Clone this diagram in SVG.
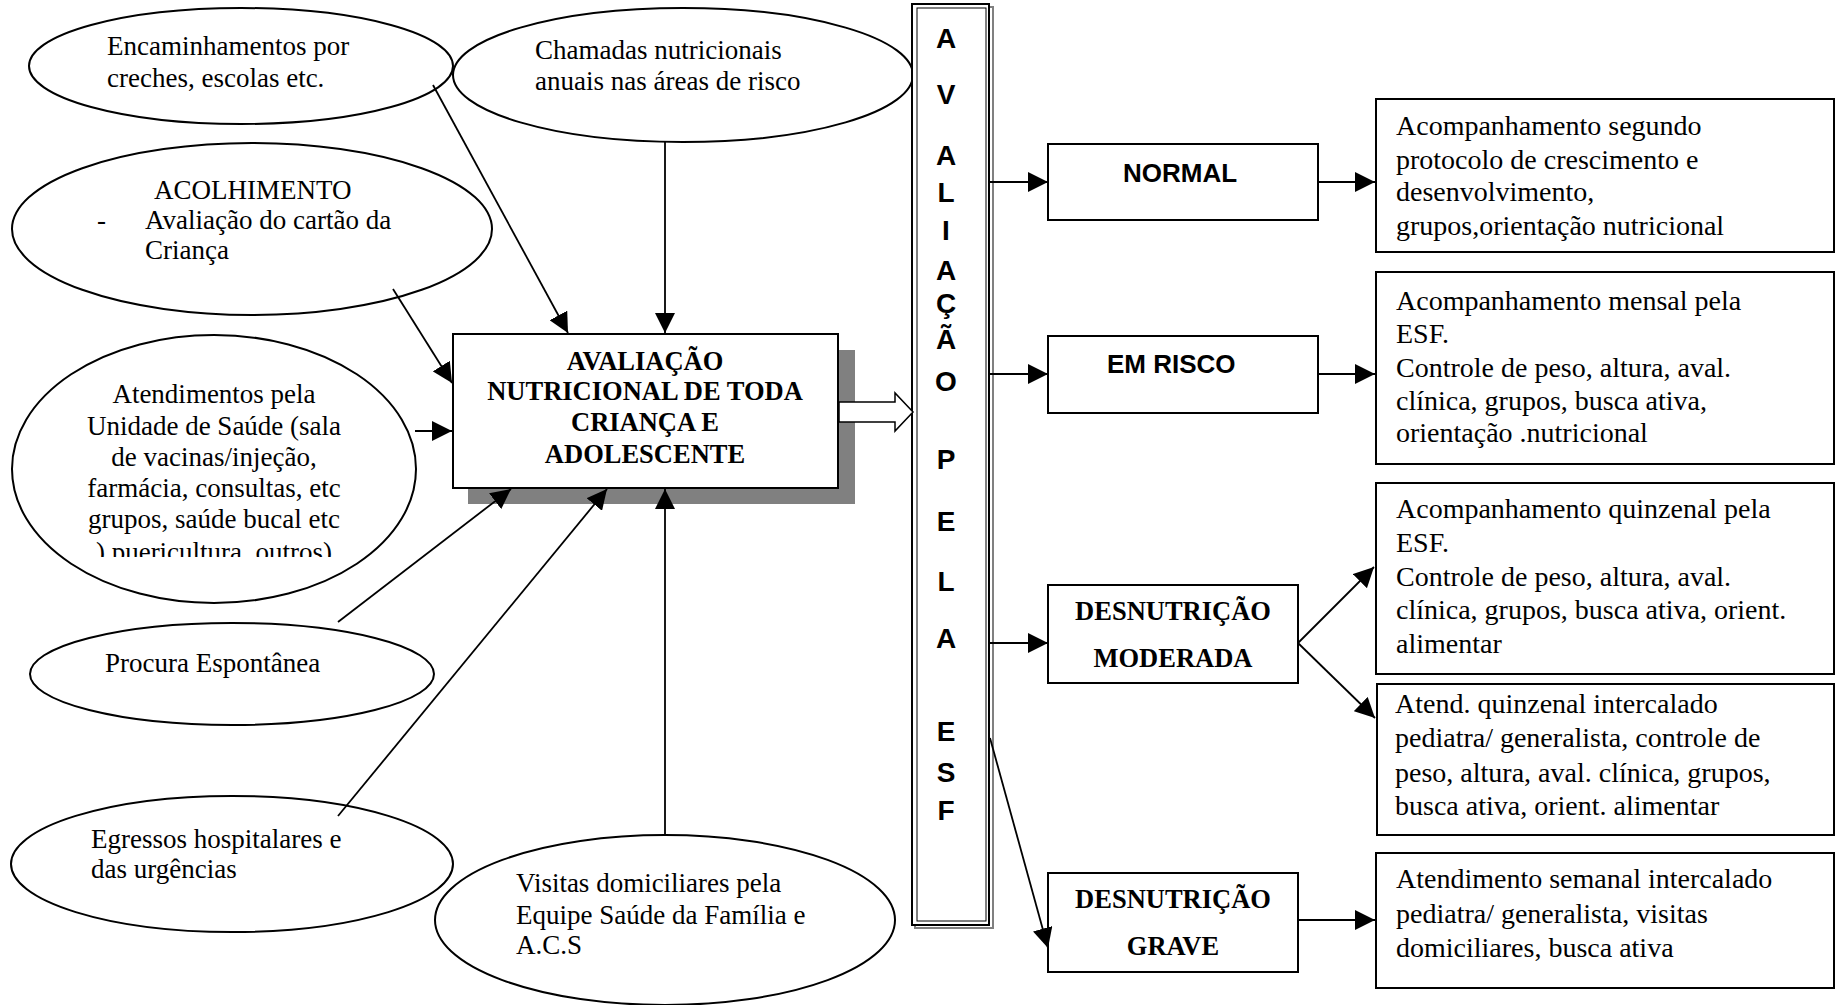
<svg xmlns="http://www.w3.org/2000/svg" width="1836" height="1005" viewBox="0 0 1836 1005">
<style>
.ell{fill:#fff;stroke:#000;stroke-width:2}
.box{fill:#fff;stroke:#000;stroke-width:2}
.t{font-family:"Liberation Serif","Times New Roman",serif;font-size:27px;fill:#000}
.tr{font-family:"Liberation Serif","Times New Roman",serif;font-size:28px;fill:#000}
.tb{font-family:"Liberation Serif","Times New Roman",serif;font-size:26.5px;font-weight:bold;fill:#000}
.s{font-family:"Liberation Sans",Arial,sans-serif;font-weight:bold;fill:#000}
.v{font-size:28px;text-anchor:middle}
.n{font-size:26px}
.mid{text-anchor:middle}
.cn line{stroke:#000;stroke-width:1.8}
</style>
<defs>
<marker id="ah" markerUnits="userSpaceOnUse" markerWidth="20" markerHeight="20" refX="20" refY="10" orient="auto">
<path d="M0,0 L20,10 L0,20 z" fill="#000"/>
</marker>
<clipPath id="clipAt"><rect x="0" y="330" width="460" height="227"/></clipPath>
</defs>

<g id="n-encaminhamentos">
<ellipse class="ell" cx="241" cy="66" rx="212" ry="58"/>
<text class="t" x="107" y="55">Encaminhamentos por</text>
<text class="t" x="107" y="87">creches, escolas etc.</text>
</g>

<g id="n-chamadas">
<ellipse class="ell" cx="683" cy="75" rx="230" ry="67"/>
<text class="t" x="535" y="59">Chamadas nutricionais</text>
<text class="t" x="535" y="90">anuais nas áreas de risco</text>
</g>

<g id="n-acolhimento">
<ellipse class="ell" cx="252" cy="229" rx="240" ry="86"/>
<text class="t" x="154" y="199">ACOLHIMENTO</text>
<text class="t" x="97" y="229">-</text>
<text class="t" x="145" y="229">Avaliação do cartão da</text>
<text class="t" x="145" y="259">Criança</text>
</g>

<g id="n-atendimentos">
<ellipse class="ell" cx="214" cy="469" rx="202" ry="134"/>
<g clip-path="url(#clipAt)">
<text class="t mid" x="214" y="403">Atendimentos pela</text>
<text class="t mid" x="214" y="435">Unidade de Saúde (sala</text>
<text class="t mid" x="214" y="466">de vacinas/injeção,</text>
<text class="t mid" x="214" y="497">farmácia, consultas, etc</text>
<text class="t mid" x="214" y="528">grupos, saúde bucal etc</text>
<text class="t mid" x="214" y="561">) puericultura, outros)</text>
</g>
</g>

<g id="n-procura">
<ellipse class="ell" cx="232" cy="674" rx="202" ry="51"/>
<text class="t" x="105" y="672">Procura Espontânea</text>
</g>

<g id="n-egressos">
<ellipse class="ell" cx="232" cy="864" rx="221" ry="68"/>
<text class="t" x="91" y="848">Egressos hospitalares e</text>
<text class="t" x="91" y="878">das urgências</text>
</g>

<g id="n-visitas">
<ellipse class="ell" cx="665" cy="920" rx="230" ry="85"/>
<text class="t" x="516" y="892">Visitas domiciliares pela</text>
<text class="t" x="516" y="924">Equipe Saúde da Família e</text>
<text class="t" x="516" y="954">A.C.S</text>
</g>

<g id="n-avaliacao">
<rect x="468" y="350" width="387" height="154" fill="#808080"/>
<rect class="box" x="453" y="334" width="385" height="154"/>
<text class="tb mid" x="645" y="370">AVALIAÇÃO</text>
<text class="tb mid" x="645" y="400">NUTRICIONAL DE TODA</text>
<text class="tb mid" x="645" y="431">CRIANÇA E</text>
<text class="tb mid" x="645" y="463">ADOLESCENTE</text>
</g>

<g id="n-esf">
<rect x="915" y="7" width="78" height="921" fill="none" stroke="#808080" stroke-width="2"/>
<rect x="912" y="4" width="77" height="921" fill="#fff" stroke="#000" stroke-width="2"/>
<rect x="917" y="8" width="69" height="913" fill="none" stroke="#000" stroke-width="1"/>
<text class="s v" x="946" y="48">A</text>
<text class="s v" x="946" y="104">V</text>
<text class="s v" x="946" y="165">A</text>
<text class="s v" x="946" y="202">L</text>
<text class="s v" x="946" y="240">I</text>
<text class="s v" x="946" y="280">A</text>
<text class="s v" x="946" y="313">Ç</text>
<text class="s v" x="946" y="349">Ã</text>
<text class="s v" x="946" y="391">O</text>
<text class="s v" x="946" y="469">P</text>
<text class="s v" x="946" y="531">E</text>
<text class="s v" x="946" y="591">L</text>
<text class="s v" x="946" y="648">A</text>
<text class="s v" x="946" y="741">E</text>
<text class="s v" x="946" y="782">S</text>
<text class="s v" x="946" y="820">F</text>
</g>

<g id="n-normal">
<rect class="box" x="1048" y="144" width="270" height="76"/>
<text class="s n" x="1123" y="182">NORMAL</text>
</g>

<g id="n-emrisco">
<rect class="box" x="1048" y="336" width="270" height="77"/>
<text class="s n" x="1107" y="373">EM RISCO</text>
</g>

<g id="n-moderada">
<rect class="box" x="1048" y="585" width="250" height="98"/>
<text class="tb mid" x="1173" y="620">DESNUTRIÇÃO</text>
<text class="tb mid" x="1173" y="667">MODERADA</text>
</g>

<g id="n-grave">
<rect class="box" x="1048" y="873" width="250" height="99"/>
<text class="tb mid" x="1173" y="908">DESNUTRIÇÃO</text>
<text class="tb mid" x="1173" y="955">GRAVE</text>
</g>

<g id="n-r-normal">
<rect class="box" x="1376" y="99" width="458" height="153"/>
<text class="tr" x="1396" y="135">Acompanhamento segundo</text>
<text class="tr" x="1396" y="169">protocolo de crescimento e</text>
<text class="tr" x="1396" y="201">desenvolvimento,</text>
<text class="tr" x="1396" y="235">grupos,orientação nutricional</text>
</g>

<g id="n-r-risco">
<rect class="box" x="1376" y="272" width="458" height="192"/>
<text class="tr" x="1396" y="310">Acompanhamento mensal pela</text>
<text class="tr" x="1396" y="343">ESF.</text>
<text class="tr" x="1396" y="377">Controle de peso, altura, aval.</text>
<text class="tr" x="1396" y="410">clínica, grupos, busca ativa,</text>
<text class="tr" x="1396" y="442">orientação .nutricional</text>
</g>

<g id="n-r-moderada1">
<rect class="box" x="1376" y="483" width="458" height="191"/>
<text class="tr" x="1396" y="518">Acompanhamento quinzenal pela</text>
<text class="tr" x="1396" y="552">ESF.</text>
<text class="tr" x="1396" y="586">Controle de peso, altura, aval.</text>
<text class="tr" x="1396" y="619">clínica, grupos, busca ativa, orient.</text>
<text class="tr" x="1396" y="653">alimentar</text>
</g>

<g id="n-r-moderada2">
<rect class="box" x="1377" y="684" width="457" height="151" stroke-width="3"/>
<text class="tr" x="1395" y="713">Atend. quinzenal intercalado</text>
<text class="tr" x="1395" y="747">pediatra/ generalista, controle de</text>
<text class="tr" x="1395" y="782">peso, altura, aval. clínica, grupos,</text>
<text class="tr" x="1395" y="815">busca ativa, orient. alimentar</text>
</g>

<g id="n-r-grave">
<rect class="box" x="1376" y="853" width="458" height="135"/>
<text class="tr" x="1396" y="888">Atendimento semanal intercalado</text>
<text class="tr" x="1396" y="923">pediatra/ generalista, visitas</text>
<text class="tr" x="1396" y="957">domiciliares, busca ativa</text>
</g>

<g id="connectors" class="cn">
<line x1="433" y1="85" x2="568" y2="333" marker-end="url(#ah)"/>
<line x1="665" y1="142" x2="665" y2="333" marker-end="url(#ah)"/>
<line x1="393" y1="289" x2="452" y2="383" marker-end="url(#ah)"/>
<line x1="415" y1="431" x2="452" y2="431" marker-end="url(#ah)"/>
<line x1="338" y1="622" x2="511" y2="489" marker-end="url(#ah)"/>
<line x1="338" y1="816" x2="607" y2="489" marker-end="url(#ah)"/>
<line x1="665" y1="835" x2="665" y2="489" marker-end="url(#ah)"/>
<polygon points="839,402 895,402 895,393 913,412 895,431 895,422 839,422" fill="#fff" stroke="#000" stroke-width="1.5"/>
<line x1="990" y1="182" x2="1048" y2="182" marker-end="url(#ah)"/>
<line x1="990" y1="374" x2="1048" y2="374" marker-end="url(#ah)"/>
<line x1="990" y1="643" x2="1048" y2="643" marker-end="url(#ah)"/>
<line x1="990" y1="738" x2="1048" y2="948" marker-end="url(#ah)"/>
<line x1="1318" y1="182" x2="1375" y2="182" marker-end="url(#ah)"/>
<line x1="1318" y1="374" x2="1375" y2="374" marker-end="url(#ah)"/>
<line x1="1298" y1="643" x2="1374" y2="567" marker-end="url(#ah)"/>
<line x1="1298" y1="643" x2="1375" y2="718" marker-end="url(#ah)"/>
<line x1="1298" y1="920" x2="1375" y2="920" marker-end="url(#ah)"/>
</g>
</svg>
